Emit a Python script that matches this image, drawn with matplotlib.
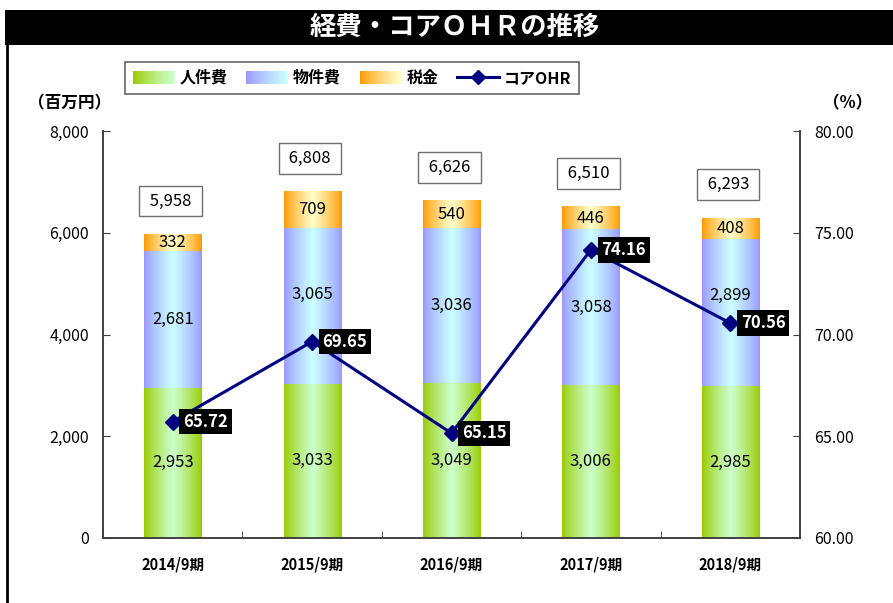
import numpy as np
import matplotlib
matplotlib.use("Agg")
import matplotlib.pyplot as plt
from matplotlib.patches import Rectangle
from matplotlib.legend_handler import HandlerBase
from matplotlib.lines import Line2D
from matplotlib.colors import to_rgb

plt.rcParams["font.family"] = ["Noto Sans CJK JP", "DejaVu Sans"]

# ------------------------------------------------------------------ #
# data                                                               #
# ------------------------------------------------------------------ #
periods = ["2014/9期", "2015/9期", "2016/9期", "2017/9期", "2018/9期"]
personnel = [2953, 3033, 3049, 3006, 2985]      # 人件費
property_cost = [2681, 3065, 3036, 3058, 2899]  # 物件費
taxes = [332, 709, 540, 446, 408]               # 税金
totals = [5958, 6808, 6626, 6510, 6293]
core_ohr = [65.72, 69.65, 65.15, 74.16, 70.56]

series_names = ["人件費", "物件費", "税金"]
# (dark edge, light centre) for the gradient fills
grad_colors = [("#99cc00", "#ccffcc"), ("#9999ff", "#ccffff"), ("#ff9900", "#ffffcc")]
line_color = "#000080"
# labels nudged up (points) where they would collide with the OHR line
label_nudge = {(1, 1): 8, (1, 4): 12}


def _gradient(dark, light, n=64, half=False):
    d, l = np.array(to_rgb(dark)), np.array(to_rgb(light))
    u = np.linspace(0, 1, n)
    t = u if half else 1 - np.abs(2 * u - 1)
    t = t ** 0.8
    return d[None, :] * (1 - t[:, None]) + l[None, :] * t[:, None]


class GradientHandler(HandlerBase):
    def __init__(self, dark, light):
        super().__init__()
        self.dark, self.light = dark, light

    def create_artists(self, legend, orig_handle, xdescent, ydescent,
                       width, height, fontsize, trans):
        cols = _gradient(self.dark, self.light, n=24, half=True)
        w = width / len(cols)
        arts = []
        for i, c in enumerate(cols):
            r = Rectangle((-xdescent + i * w, -ydescent), w * 1.05, height,
                          facecolor=c, edgecolor="none", transform=trans)
            arts.append(r)
        return arts


fig = plt.figure(figsize=(8.93, 6.03), dpi=100)

# title bar + frame
fig.patches.append(Rectangle((5 / 893, 1 - 45 / 603), 1, 35 / 603,
                             transform=fig.transFigure, facecolor="black",
                             edgecolor="none"))
fig.lines.append(Line2D([6.5 / 893, 6.5 / 893], [0, 1 - 45 / 603],
                        transform=fig.transFigure, color="black", lw=2))
fig.text(455 / 893, 1 - 27.5 / 603, "経費・コアＯＨＲの推移", color="white",
         fontsize=19, fontweight="bold", ha="center", va="center")

ax = fig.add_axes([103 / 893, 1 - 538 / 603, 697 / 893, 407 / 603])
ax2 = ax.twinx()

x = np.arange(len(periods))
width = 0.41
bottoms = np.zeros(len(periods))
for si, (vals, name, (dark, light)) in enumerate(
        zip([personnel, property_cost, taxes], series_names, grad_colors)):
    bars = ax.bar(x, vals, width, bottom=bottoms, color="none",
                  edgecolor="none", label=name)
    img = _gradient(dark, light)[None, :, :]
    for ci, (b, v, btm) in enumerate(zip(bars, vals, bottoms)):
        ax.imshow(img, extent=[b.get_x(), b.get_x() + b.get_width(),
                               btm, btm + v],
                  aspect="auto", interpolation="bilinear", zorder=1)
        ax.annotate(f"{v:,}", (b.get_x() + b.get_width() / 2, btm + v / 2),
                    xytext=(0, label_nudge.get((si, ci), 0)),
                    textcoords="offset points",
                    ha="center", va="center", fontsize=12, zorder=3)
    bottoms = bottoms + np.array(vals)

for xi, top, tot in zip(x, bottoms, totals):
    ax.annotate(f" {tot:,} ", (xi, top), xytext=(-1.5, 24),
                textcoords="offset points", ha="center", va="center",
                fontsize=12, zorder=4,
                bbox=dict(boxstyle="square,pad=0.4", facecolor="white",
                          edgecolor="#707070", lw=1))

ax.set_xlim(-0.5, len(periods) - 0.5)
ax.set_ylim(0, 8000)
ax.set_yticks(np.arange(0, 8001, 2000))
ax.set_yticklabels([f"{v:,}" for v in range(0, 8001, 2000)], fontsize=11.5)
ax.set_xticks(x)
ax.set_xticklabels(periods, fontsize=10.5, fontweight="bold",
                   family=["Liberation Sans Narrow", "Noto Sans CJK JP"])
ax.set_xticks(np.arange(-0.5, len(periods)), minor=True)
ax.tick_params(axis="x", which="major", length=0, pad=13)
ax.tick_params(axis="x", which="minor", direction="in", length=5,
               color="#404040")
ax.tick_params(axis="y", direction="in", length=5, pad=10, color="#404040")

ax2.plot(x, core_ohr, color=line_color, lw=2.2, marker="D", markersize=8,
         label="コアOHR", zorder=5)
for xi, v in zip(x, core_ohr):
    ax2.annotate(f"{v:.2f}", (xi, v), xytext=(7.5, 0),
                 textcoords="offset points", ha="left", va="center",
                 color="white", fontsize=12, fontweight="bold", zorder=6,
                 bbox=dict(boxstyle="square,pad=0.22", facecolor="black",
                           edgecolor="none"))
ax2.set_ylim(60, 80)
ax2.set_yticks(np.arange(60, 81, 5))
ax2.set_yticklabels([f"{v:.2f}" for v in range(60, 81, 5)], fontsize=11.5)
ax2.tick_params(axis="y", direction="in", length=5, pad=10, color="#404040")

for a in (ax, ax2):
    a.spines["top"].set_visible(False)
    for s in ("left", "right", "bottom"):
        a.spines[s].set_color("#404040")
        a.spines[s].set_linewidth(1.2)

fig.text(28 / 893, 1 - 103 / 603, "（百万円）", fontsize=12,
         fontweight="bold", va="center", ha="left")
fig.text(872 / 893, 1 - 103 / 603, "（%）", fontsize=12,
         fontweight="bold", va="center", ha="right")

handles = [Rectangle((0, 0), 1, 1) for _ in series_names]
handles.append(Line2D([], [], color=line_color, lw=2.2, marker="D",
                      markersize=7))
handler_map = {h: GradientHandler(*c) for h, c in zip(handles, grad_colors)}
leg = fig.legend(handles, series_names + ["コアOHR"], handler_map=handler_map,
                 loc="upper left", bbox_to_anchor=(125 / 893, 1 - 62 / 603),
                 ncol=4, frameon=True, fancybox=False, edgecolor="#404040",
                 prop={"size": 11.5, "weight": "bold"}, handlelength=2.6,
                 handleheight=0.9, handletextpad=0.3, columnspacing=1.2,
                 borderpad=0.5, borderaxespad=0)
leg.get_frame().set_linewidth(1.2)

fig.savefig("out.png", dpi=100)
